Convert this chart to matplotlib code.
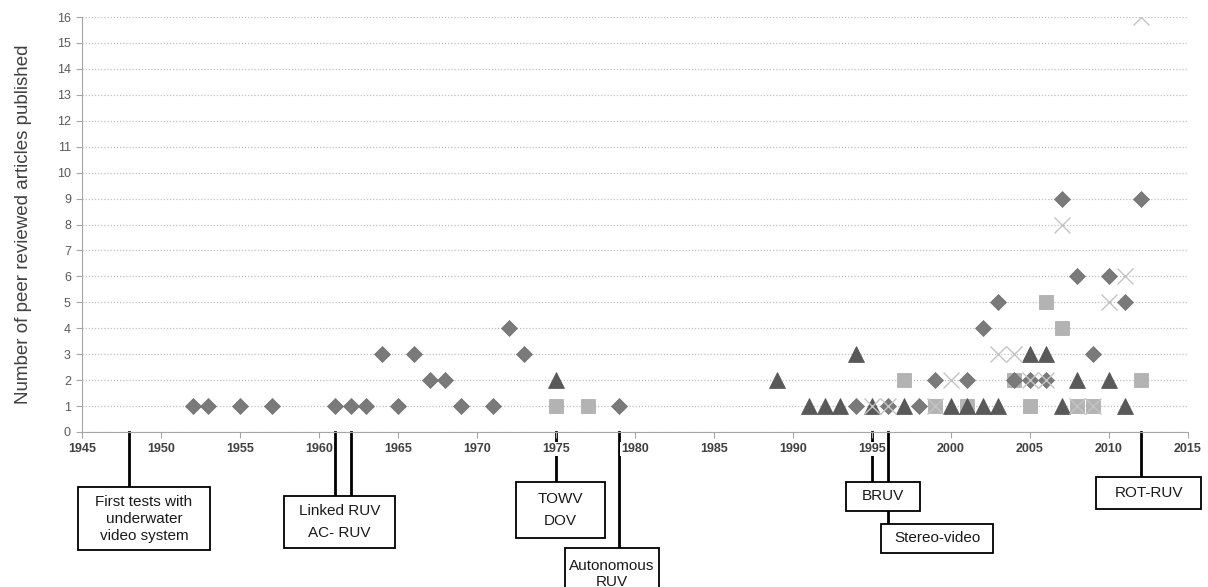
import matplotlib.pyplot as plt
import matplotlib.transforms as mtransforms
from matplotlib.patches import Rectangle

plt.rcParams['font.family'] = ['Liberation Sans', 'DejaVu Sans']

# data (year, number of articles)
diamond_years = [1952, 1953, 1955, 1957, 1961, 1962, 1963, 1964, 1965, 1966, 1967, 1968,
                 1969, 1971, 1972, 1973, 1979, 1994, 1996, 1998, 1999, 2001, 2002, 2003,
                 2004, 2005, 2006, 2007, 2008, 2009, 2010, 2011, 2012]
diamond_counts = [1, 1, 1, 1, 1, 1, 1, 3, 1, 3, 2, 2,
                  1, 1, 4, 3, 1, 1, 1, 1, 2, 2, 4, 5,
                  2, 2, 2, 9, 6, 3, 6, 5, 9]

square_years = [1975, 1977, 1997, 1999, 2001, 2004, 2005, 2006, 2007, 2008, 2009, 2012]
square_counts = [1, 1, 2, 1, 1, 2, 1, 5, 4, 1, 1, 2]

triangle_years = [1975, 1989, 1991, 1992, 1993, 1994, 1995, 1997, 2000, 2001, 2002, 2003,
                  2005, 2006, 2007, 2008, 2010, 2011]
triangle_counts = [2, 2, 1, 1, 1, 3, 1, 1, 1, 1, 1, 1,
                   3, 3, 1, 2, 2, 1]

cross_years = [1995, 1996, 1999, 2000, 2003, 2004, 2005, 2006, 2007, 2008, 2009, 2010, 2011, 2012]
cross_counts = [1, 1, 1, 2, 3, 3, 2, 2, 8, 1, 1, 5, 6, 16]

# timeline events: label, year(s) the leader lines start from
event_labels = ['First tests with\nunderwater\nvideo system', 'Linked RUV\nAC- RUV',
                'TOWV\nDOV', 'Autonomous\nRUV', 'BRUV', 'Stereo-video', 'ROT-RUV']
event_years = [[1948], [1961, 1962], [1975], [1979], [1995], [1996], [2012]]
# box layout in pixels: left, top, right, bottom
event_boxes = [(78, 487, 210, 550), (284, 496, 395, 548), (516, 482, 605, 538),
               (565, 548, 659, 600), (846, 482, 920, 511), (881, 524, 993, 553),
               (1096, 477, 1201, 509)]
event_text_y = [519, 522, 510, 574, 496, 538, 493]
event_spacing = [1.3, 1.75, 1.75, 1.1, 1.2, 1.2, 1.2]

W, H = 1208, 587
fig = plt.figure(figsize=(W / 100, H / 100), dpi=100)
ax = fig.add_axes([82 / W, 1 - 432 / H, (1188 - 82) / W, (432 - 17) / H])
ax.set_axisbelow(True)

ax.plot(square_years, square_counts, 's', ms=10.5, color='#b3b3b3', mec='#a8a8a8', mew=0.5, zorder=3)
ax.plot(diamond_years, diamond_counts, 'D', ms=8.3, color='#7a7a7a', mec='#707070', mew=0.5, zorder=4)
ax.plot(triangle_years, triangle_counts, '^', ms=11.5, color='#595959', mec='#505050', mew=0.5, zorder=5)
ax.plot(cross_years, cross_counts, 'x', ms=11.5, color='#c4c4c4', mew=1.0, zorder=6)

ax.set_xlim(1945, 2015)
ax.set_ylim(0, 16)
ax.set_xticks(range(1945, 2016, 5))
ax.set_yticks(range(0, 17))
ax.grid(axis='y', color='#c0c0c0', linestyle=(0, (1, 1.5)), linewidth=0.9)
for s in ['top', 'right']:
    ax.spines[s].set_visible(False)
for s in ['left', 'bottom']:
    ax.spines[s].set_color('#a6a6a6')
ax.tick_params(axis='x', direction='out', length=4, color='#a6a6a6', pad=4,
               labelsize=9, labelcolor='#404040')
ax.tick_params(axis='y', direction='out', length=4, color='#a6a6a6', pad=4,
               labelsize=9, labelcolor='#595959')
for lab in ax.get_xticklabels():
    lab.set_fontweight('bold')
    lab.set_bbox(dict(facecolor='white', edgecolor='none', pad=0.5))
ax.set_ylabel('Number of peer reviewed articles published', fontsize=13.5,
              color='#404040', labelpad=18)

# timeline boxes and leader lines
blend = mtransforms.blended_transform_factory(ax.transData, fig.transFigure)
axis_y = 1 - 432 / H
for label, years, box, ty, sp in zip(event_labels, event_years, event_boxes,
                                     event_text_y, event_spacing):
    x0, y0, x1, y1 = box
    for yr in years:
        ax.plot([yr, yr], [axis_y, 1 - y0 / H], color='black', lw=2,
                transform=blend, clip_on=False, zorder=0.3)
    ax.add_patch(Rectangle((x0 / W, 1 - y1 / H), (x1 - x0) / W, (y1 - y0) / H,
                           transform=fig.transFigure, facecolor='white',
                           edgecolor='black', lw=1.3, clip_on=False, zorder=1))
    ax.text((x0 + x1) / 2 / W, 1 - ty / H, label, transform=fig.transFigure,
            ha='center', va='center', fontsize=11, linespacing=sp, color='#1a1a1a',
            clip_on=False, zorder=2)

fig.savefig('out.png', dpi=100)
